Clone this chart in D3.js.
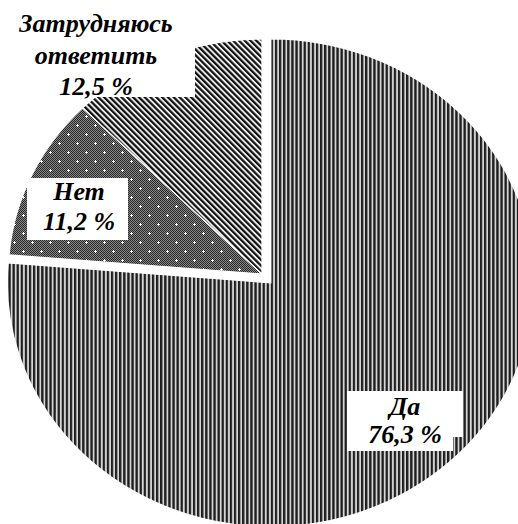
<!DOCTYPE html>
<html>
<head>
<meta charset="utf-8">
<script src="https://cdn.jsdelivr.net/npm/d3@7"></script>
<style>
  html, body { margin: 0; padding: 0; background: #fff; }
  svg { display: block; }
</style>
</head>
<body>
<svg id="chart" width="518" height="524"></svg>
<script>
// Survey answers, percent of respondents
const categories = ["Да", "Нет", "Затрудняюсь ответить"];
const values = [76.3, 11.2, 12.5];
// Label text lines (category part), value line is appended from values
const labelHeads = [["Да"], ["Нет"], ["Затрудняюсь", "ответить"]];

const W = 518, H = 524;
const svg = d3.select("#chart");
const defs = svg.append("defs");

// Pie is drawn slightly wider than tall
const sx = 1.08;
const base = { x: 262, y: 274 };
const radius = [244, 235, 235];
const explode = [12, 0, 0];

// --- fill patterns (counter-scaled so the tile keeps its pixel size) ---
const inv = `scale(${1 / sx},1)`;

// vertical hatching
const pDa = defs.append("pattern").attr("id", "p-da")
  .attr("patternUnits", "userSpaceOnUse").attr("width", 4.1).attr("height", 10)
  .attr("patternTransform", inv);
pDa.append("rect").attr("width", 4.1).attr("height", 10).attr("fill", "#d6d6d6");
pDa.append("rect").attr("x", 0).attr("width", 2.3).attr("height", 10).attr("fill", "#1e1e1e");

// fine checker with white dots
const tile = 18;
const pNo = defs.append("pattern").attr("id", "p-no")
  .attr("patternUnits", "userSpaceOnUse").attr("width", tile).attr("height", tile)
  .attr("patternTransform", inv);
pNo.append("rect").attr("width", tile).attr("height", tile).attr("fill", "#8a8a8a");
const cells = [];
for (let i = 0; i < tile; i++) for (let j = 0; j < tile; j++) if ((i + j) % 2 === 0) cells.push([i, j]);
pNo.selectAll("rect.c").data(cells).enter().append("rect").attr("class", "c")
  .attr("x", d => d[0]).attr("y", d => d[1]).attr("width", 1).attr("height", 1).attr("fill", "#262626");
[[4, 4], [13, 13]].forEach(([x, y]) => {
  pNo.append("rect").attr("x", x - 1).attr("y", y).attr("width", 3).attr("height", 1).attr("fill", "#fff");
  pNo.append("rect").attr("x", x).attr("y", y - 1).attr("width", 1).attr("height", 3).attr("fill", "#fff");
});

// diagonal hatching "\"
const pHard = defs.append("pattern").attr("id", "p-hard")
  .attr("patternUnits", "userSpaceOnUse").attr("width", 4.1).attr("height", 10)
  .attr("patternTransform", `${inv} rotate(-45)`);
pHard.append("rect").attr("width", 4.1).attr("height", 10).attr("fill", "#eeeeee");
pHard.append("rect").attr("width", 2.2).attr("height", 10).attr("fill", "#101010");

const fills = ["url(#p-da)", "url(#p-no)", "url(#p-hard)"];

// --- slices ---
const pie = d3.pie().sort(null).value(d => d);
const arcs = pie(values);

const g = svg.append("g");
arcs.forEach((a, i) => {
  const mid = (a.startAngle + a.endAngle) / 2;
  const ox = base.x + Math.sin(mid) * explode[i] * sx;
  const oy = base.y - Math.cos(mid) * explode[i];
  const arc = d3.arc().innerRadius(0).outerRadius(radius[i]);
  g.append("g")
    .attr("transform", `translate(${ox},${oy}) scale(${sx},1)`)
    .append("path")
    .attr("d", arc(a))
    .attr("fill", fills[i])
    .attr("stroke", "#fff")
    .attr("stroke-width", 1.2);
});

// --- data labels ---
const fmt = v => d3.format(".1f")(v).replace(".", ",") + " %";
const labelPos = [
  { x: 405, y: 415, lh: 28, boxes: [[347, 391, 116, 46], [347, 420, 106, 31]] },
  { x: 79, y: 200, lh: 30, boxes: [[27, 178, 101, 62]] },
  { x: 96, y: 32, lh: 31.5, boxes: [[4, 0, 191, 97]] }
];

const lg = svg.append("g");
values.forEach((v, i) => {
  const p = labelPos[i];
  p.boxes.forEach(b => lg.append("rect")
    .attr("x", b[0]).attr("y", b[1]).attr("width", b[2]).attr("height", b[3]).attr("fill", "#fff"));
  const lines = labelHeads[i].concat([fmt(v)]);
  const t = lg.append("text")
    .attr("font-family", "'Liberation Serif'")
    .attr("font-weight", "bold")
    .attr("font-style", "italic")
    .attr("font-size", 26)
    .attr("fill", "#000")
    .attr("text-anchor", "middle");
  lines.forEach((s, k) => t.append("tspan").attr("x", p.x).attr("y", p.y + k * p.lh).text(s));
});
</script>
</body>
</html>
